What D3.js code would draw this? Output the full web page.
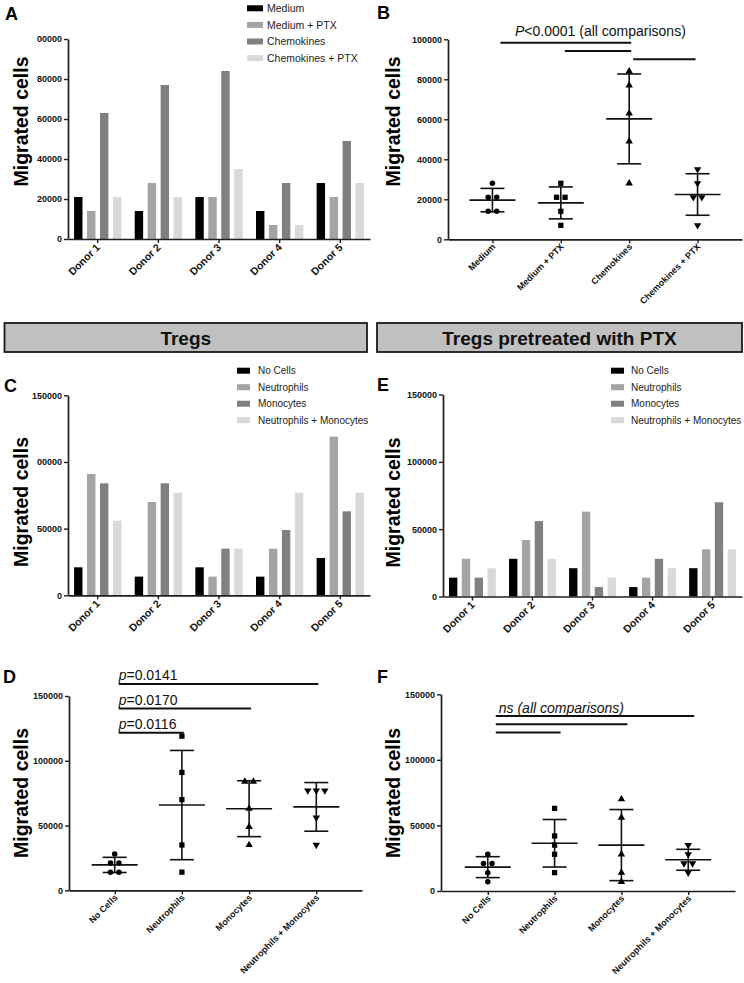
<!DOCTYPE html>
<html><head><meta charset="utf-8">
<script src="https://cdn.jsdelivr.net/npm/d3@7"></script>
<style>
body{margin:0;background:#fff}
svg{display:block;font-family:"Liberation Sans",Arial,Helvetica,sans-serif}
</style>
</head><body>
<svg id="fig" width="744" height="983"></svg>
<script>
// ---------------- DATA ----------------
const donors = ["Donor 1", "Donor 2", "Donor 3", "Donor 4", "Donor 5"];
const conditionsA = ["Medium", "Medium + PTX", "Chemokines", "Chemokines + PTX"];
const medium        = [21000, 14000, 21000, 14000, 28000];
const mediumPTX     = [14000, 28000, 21000,  7000, 21000];
const chemokines    = [63000, 77000, 84000, 28000, 49000];
const chemokinesPTX = [21000, 21000, 35000,  7000, 28000];

const cellTypes = ["No Cells", "Neutrophils", "Monocytes", "Neutrophils + Monocytes"];
const tregNoCells     = [21000, 14000, 21000, 14000, 28000];
const tregNeutrophils = [91000, 70000, 14000, 35000, 119000];
const tregMonocytes   = [84000, 84000, 35000, 49000, 63000];
const tregNeuMono     = [56000, 77000, 35000, 77000, 77000];

const ptxNoCells     = [14000, 28000, 21000,  7000, 21000];
const ptxNeutrophils = [28000, 42000, 63000, 14000, 35000];
const ptxMonocytes   = [14000, 56000,  7000, 28000, 70000];
const ptxNeuMono     = [21000, 28000, 14000, 21000, 35000];

const ticksA = [0, 20000, 40000, 60000, 80000, 100000];
const tickLabelsA = ["0", "20000", "40000", "60000", "80000", "00000"];
const ticksB = [0, 20000, 40000, 60000, 80000, 100000];
const tickLabelsB = ["0", "20000", "40000", "60000", "80000", "100000"];
const ticks150 = [0, 50000, 100000, 150000];
const tickLabelsC = ["0", "50000", "00000", "150000"];
const tickLabels150 = ["0", "50000", "100000", "150000"];

const headers = ["Tregs", "Tregs pretreated with PTX"];
const sigB = { text: ["P", "<0.0001 (all comparisons)"], pairs: [["Medium","Chemokines"],["Medium + PTX","Chemokines"],["Chemokines","Chemokines + PTX"]], levels: [98300, 94100, 90000] };
const sigD = { texts: ["p=0.0141", "p=0.0170", "p=0.0116"], targets: ["Neutrophils + Monocytes", "Monocytes", "Neutrophils"], levels: [159300, 140300, 121700] };
const sigF = { text: "ns (all comparisons)", targets: ["Neutrophils + Monocytes", "Monocytes", "Neutrophils"], levels: [133500, 127200, 120800] };

// ---------------- STYLE ----------------
const fills = ["#000000", "#a4a4a4", "#808080", "#d9d9d9"];
const axisColor = "#1e1e1e";
const svg = d3.select("#fig");

function styleAxis(g, fs) {
  g.select(".domain").attr("stroke", axisColor).attr("stroke-width", 1.7);
  g.selectAll(".tick line").attr("stroke", axisColor).attr("stroke-width", 1.4);
  g.selectAll(".tick text").attr("fill", "#111").attr("font-size", fs || 9).attr("font-weight", "bold")
    .attr("font-family", "'Liberation Sans',Arial,sans-serif");
}

function yAxis(x0, y, ticks, labels) {
  const g = svg.append("g").attr("transform", `translate(${x0},0)`)
    .call(d3.axisLeft(y).tickValues(ticks).tickFormat((d, i) => labels[i]).tickSize(4).tickSizeOuter(0).tickPadding(2));
  styleAxis(g);
  return g;
}

function xAxisRot(yBot, x, fs, off) {
  const g = svg.append("g").attr("transform", `translate(0,${yBot})`)
    .call(d3.axisBottom(x).tickSize(4).tickSizeOuter(0));
  styleAxis(g, fs);
  g.selectAll(".tick text").attr("x", 0).attr("y", 0).attr("dy", 0)
    .attr("text-anchor", "end").attr("transform", `translate(${off[0]},${off[1]}) rotate(-45)`);
  return g;
}

function yTitle(x, yc) {
  svg.append("text").attr("transform", `translate(${x},${yc}) rotate(-90)`)
    .attr("text-anchor", "middle").attr("font-size", 19.5).attr("font-weight", "bold").text("Migrated cells");
}

function panelLetter(t, x, y) {
  svg.append("text").attr("x", x).attr("y", y).attr("font-size", 18).attr("font-weight", "bold").text(t);
}

function legend(names, sx, sw, tx, y0, dy, fs) {
  names.forEach((n, i) => {
    svg.append("rect").attr("x", sx).attr("y", y0 + i * dy - 3).attr("width", sw).attr("height", 6).attr("fill", fills[i]);
    svg.append("text").attr("x", tx).attr("y", y0 + i * dy).attr("dy", "0.35em").attr("font-size", fs).attr("fill", "#222").text(n);
  });
}

function barPanel(p) {
  const y = d3.scaleLinear().domain([0, p.max]).range([p.yBot, p.yTop]);
  const x = d3.scaleBand().domain(donors).range([p.x0, p.x1]).paddingInner(0.22).paddingOuter(0.1);
  const xs = d3.scaleBand().domain(d3.range(p.series.length)).range([0, x.bandwidth()]).paddingInner(0.35).paddingOuter(0);
  const g = svg.append("g");
  p.series.forEach((s, si) => {
    g.selectAll(null).data(s).join("rect")
      .attr("x", (d, i) => x(donors[i]) + xs(si))
      .attr("width", xs.bandwidth())
      .attr("y", d => y(d))
      .attr("height", d => y(0) - y(d))
      .attr("fill", fills[si]);
  });
  yAxis(p.x0, y, p.ticks, p.labels);
  xAxisRot(p.yBot, x, 10.5, [3, 9]);
  return { x, y };
}

const sym = {
  circle: d3.symbol().type(d3.symbolCircle).size(24),
  square: d3.symbol().type(d3.symbolSquare).size(28),
  tri: d3.symbol().type(d3.symbolTriangle).size(24)
};
const shapes = [
  { path: sym.circle(), rot: 0 },
  { path: sym.square(), rot: 0 },
  { path: sym.tri(), rot: 0 },
  { path: sym.tri(), rot: 180 }
];

function scatterPanel(p) {
  const y = d3.scaleLinear().domain([0, p.max]).range([p.yBot, p.yTop]);
  const x = d3.scalePoint().domain(p.cats).range([p.x0, p.x1]).padding(p.pad);
  const g = svg.append("g");
  p.groups.forEach((vals, gi) => {
    const cx = x(p.cats[gi]);
    const m = d3.mean(vals), sd = d3.deviation(vals);
    const ln = (x1, y1, x2, y2) => g.append("line").attr("x1", x1).attr("y1", y1).attr("x2", x2).attr("y2", y2)
      .attr("stroke", "#111").attr("stroke-width", 1.6);
    ln(cx, y(m - sd), cx, y(m + sd));
    ln(cx - 12, y(m + sd), cx + 12, y(m + sd));
    ln(cx - 12, y(m - sd), cx + 12, y(m - sd));
    ln(cx - 23, y(m), cx + 23, y(m));
    // spread identical values side by side
    const counts = d3.rollup(vals, v => v.length, d => d);
    const seen = new Map();
    vals.forEach(v => {
      const n = counts.get(v), k = seen.get(v) || 0;
      seen.set(v, k + 1);
      const off = (k - (n - 1) / 2) * 8.5;
      g.append("path").attr("d", shapes[gi].path)
        .attr("transform", `translate(${cx + off},${y(v)}) rotate(${shapes[gi].rot})`)
        .attr("fill", "#000");
    });
  });
  yAxis(p.x0, y, p.ticks, p.labels);
  xAxisRot(p.yBot, x, 9, [3, 8]);
  return { x, y };
}

function sigLine(x1, x2, yv) {
  svg.append("line").attr("x1", x1).attr("x2", x2).attr("y1", yv).attr("y2", yv)
    .attr("stroke", "#111").attr("stroke-width", 2);
}

// ---------------- PANEL A ----------------
panelLetter("A", 5, 20);
barPanel({ x0: 68, x1: 370, yTop: 39, yBot: 239, max: 100000, ticks: ticksA, labels: tickLabelsA,
  series: [medium, mediumPTX, chemokines, chemokinesPTX] });
legend(conditionsA, 247, 16, 267, 8.3, 16.6, 10.5);
yTitle(28, 121.5);

// ---------------- PANEL B ----------------
panelLetter("B", 377, 19);
const pb = scatterPanel({ x0: 448, x1: 742, yTop: 39.3, yBot: 239.3, max: 100000, ticks: ticksB, labels: tickLabelsB,
  cats: conditionsA, pad: 0.65, groups: [medium, mediumPTX, chemokines, chemokinesPTX] });
yTitle(400, 121.5);
sigB.pairs.forEach((pr, i) => {
  const xa = pb.x(pr[0]), xb = pb.x(pr[1]);
  sigLine(xa + (i === 0 ? 8 : 4), xb + (i === 2 ? -2 : 2), pb.y(sigB.levels[i]));
});
{
  const t = svg.append("text").attr("x", 515).attr("y", 36).attr("font-size", 14).attr("fill", "#111");
  t.append("tspan").attr("font-style", "italic").text(sigB.text[0]);
  t.append("tspan").text(sigB.text[1]);
}

// ---------------- HEADERS ----------------
[[4.5, 367], [377, 742]].forEach((b, i) => {
  svg.append("rect").attr("x", b[0]).attr("y", 323).attr("width", b[1] - b[0]).attr("height", 29)
    .attr("fill", "#c0c0c0").attr("stroke", "#1a1a1a").attr("stroke-width", 1.8);
  svg.append("text").attr("x", (b[0] + b[1]) / 2).attr("y", 344.5).attr("text-anchor", "middle")
    .attr("font-size", 19).attr("font-weight", "bold").attr("fill", "#111").text(headers[i]);
});

// ---------------- PANEL C ----------------
panelLetter("C", 4, 392);
barPanel({ x0: 68, x1: 370, yTop: 395.3, yBot: 595.3, max: 150000, ticks: ticks150, labels: tickLabelsC,
  series: [tregNoCells, tregNeutrophils, tregMonocytes, tregNeuMono] });
legend(cellTypes, 237, 13, 258, 370.7, 16.5, 10);
yTitle(28, 502);

// ---------------- PANEL E ----------------
panelLetter("E", 377, 391);
barPanel({ x0: 443, x1: 742, yTop: 394.5, yBot: 596.5, max: 150000, ticks: ticks150, labels: tickLabels150,
  series: [ptxNoCells, ptxNeutrophils, ptxMonocytes, ptxNeuMono] });
legend(cellTypes, 611, 13, 631, 370.7, 16.5, 10);
yTitle(400, 502.5);

// ---------------- PANEL D ----------------
panelLetter("D", 3, 683);
const pd = scatterPanel({ x0: 69, x1: 362, yTop: 696, yBot: 890.3, max: 150000, ticks: ticks150, labels: tickLabels150,
  cats: cellTypes, pad: 0.68, groups: [tregNoCells, tregNeutrophils, tregMonocytes, tregNeuMono] });
yTitle(28, 793);
sigD.targets.forEach((tg, i) => {
  const yv = pd.y(sigD.levels[i]);
  sigLine(pd.x("No Cells") + 4, pd.x(tg) + 2, yv);
  const t = svg.append("text").attr("x", pd.x("No Cells") + 4).attr("y", yv - 4).attr("font-size", 14).attr("fill", "#111");
  t.append("tspan").attr("font-style", "italic").text(sigD.texts[i].slice(0, 1));
  t.append("tspan").text(sigD.texts[i].slice(1));
});

// ---------------- PANEL F ----------------
panelLetter("F", 377, 683);
const pf = scatterPanel({ x0: 441, x1: 735, yTop: 694.3, yBot: 891, max: 150000, ticks: ticks150, labels: tickLabels150,
  cats: cellTypes, pad: 0.7, groups: [ptxNoCells, ptxNeutrophils, ptxMonocytes, ptxNeuMono] });
yTitle(400, 793);
sigF.targets.forEach((tg, i) => {
  sigLine(pf.x("No Cells") + 8, pf.x(tg) + 6, pf.y(sigF.levels[i]));
});
svg.append("text").attr("x", pf.x("No Cells") + 11).attr("y", pf.y(sigF.levels[0]) - 2.5)
  .attr("font-size", 14).attr("font-style", "italic").attr("fill", "#111").text(sigF.text);
</script>
</body></html>
